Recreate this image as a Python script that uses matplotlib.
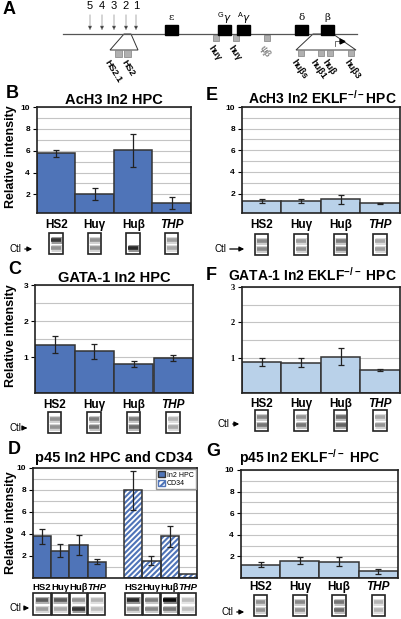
import numpy as np
import matplotlib
matplotlib.use('Agg')
from matplotlib import pyplot as plt
from matplotlib.patches import Rectangle, Polygon, Patch

plt.rcParams['font.family'] = ['Liberation Sans', 'DejaVu Sans']
plt.rcParams['hatch.linewidth'] = 1.5
plt.rcParams['mathtext.fontset'] = 'custom'
plt.rcParams['mathtext.rm'] = 'Liberation Sans'

W, H = 402, 619
DARK = '#4f74b8'
LIGHT = '#b9d1e9'
EDGE = '#333333'

cats = ['HS2', 'Huγ', 'Huβ', 'THP']

# AcH3 (B: In2 HPC, E: EKLF-/- HPC)
ach3_wt = [5.75, 2.05, 6.05, 1.25]
ach3_wt_lo = [5.45, 1.45, 4.5, 0.7]
ach3_wt_hi = [6.05, 2.6, 7.5, 1.8]
ach3_ko = [1.3, 1.28, 1.5, 1.1]
ach3_ko_lo = [1.1, 1.08, 1.05, 1.05]
ach3_ko_hi = [1.45, 1.45, 1.9, 1.12]

# GATA-1 (C, F)
gata_wt = [1.34, 1.17, 0.8, 0.97]
gata_wt_lo = [1.1, 0.95, 0.72, 0.88]
gata_wt_hi = [1.57, 1.37, 0.9, 1.05]
gata_ko = [0.88, 0.84, 1.03, 0.65]
gata_ko_lo = [0.77, 0.75, 0.78, 0.62]
gata_ko_hi = [0.98, 0.98, 1.28, 0.68]

# p45 (D: In2 HPC + CD34, G: EKLF-/-)
p45_hpc = [3.85, 2.45, 3.0, 1.45]
p45_hpc_lo = [3.1, 1.9, 2.1, 1.3]
p45_hpc_hi = [4.5, 3.05, 3.95, 1.7]
p45_cd34 = [8.0, 1.55, 3.85, 0.35]
p45_cd34_lo = [6.2, 1.15, 2.8, 0.35]
p45_cd34_hi = [9.7, 2.0, 4.7, 0.35]
p45_ko = [1.2, 1.6, 1.5, 0.65]
p45_ko_lo = [1.0, 1.3, 1.1, 0.4]
p45_ko_hi = [1.5, 1.9, 1.9, 0.85]

# gel band strengths (upper band, Ctl band) for each lane
gel_b = [(0.75, 0.3), (0.3, 0.3), (0.05, 0.8), (0.25, 0.2)]
gel_e = [(0.35, 0.35), (0.25, 0.3), (0.4, 0.45), (0.2, 0.25)]
gel_c = [(0.3, 0.3), (0.4, 0.45), (0.4, 0.5), (0.15, 0.2)]
gel_f = [(0.35, 0.45), (0.3, 0.45), (0.5, 0.55), (0.2, 0.3)]
gel_d = [(0.6, 0.25), (0.6, 0.2), (0.3, 0.75), (0.15, 0.1),
         (0.8, 0.3), (0.4, 0.35), (0.95, 0.45), (0.1, 0.1)]
gel_g = [(0.3, 0.3), (0.35, 0.3), (0.45, 0.5), (0.15, 0.15)]

# locus map (panel A)
hs_names = ['5', '4', '3', '2', '1']
hs_x = [90, 102, 114, 126, 136]
gene_names = ['ε', r'$^{\rm G}\gamma$', r'$^{\rm A}\gamma$', 'δ', 'β']
gene_x = [165, 218, 237, 295, 321]
probe_line_x = [213, 233, 264]
probe_line_names = ['huγ', 'huγ', 'ψβ']
hs2_probe_x = [115, 124]
hs2_label_x = [110, 127]
hs2_probe_names = ['HS2.1', 'HS2']
beta_probe_x = [298, 318, 327, 348]
beta_label_x = [297, 316, 328, 350]
beta_probe_names = ['huβs', 'huβ1', 'huβ', 'huβ3']

KO = r'EKLF$^{\mathregular{-/-}}$'


def px_box(x0, y0, x1, y1):
    return [x0 / W, 1 - y1 / H, (x1 - x0) / W, (y1 - y0) / H]


def bar_panel(fig, box, x, vals, lo, hi, nslot, ylim, major, minor, color=DARK, serif=False):
    ax = fig.add_axes(px_box(*box))
    vals = np.array(vals); lo = np.array(lo); hi = np.array(hi)
    ax.set_axisbelow(True)
    ax.set_yticks(major)
    ax.set_yticks(minor, minor=True)
    ax.yaxis.grid(True, which='both', color='#c4c4c4', lw=0.8)
    ax.bar(x, vals, width=1.0, color=color, edgecolor=EDGE, lw=1.1, zorder=2)
    ax.errorbar(x, vals, yerr=[vals - lo, hi - vals], fmt='none', ecolor='#222222',
                elinewidth=0.9, capsize=2.2, capthick=0.9, zorder=3)
    ax.set_xlim(-0.5, nslot - 0.5)
    ax.set_ylim(ylim)
    ax.set_xticks([])
    ax.tick_params(axis='y', which='major', length=3, width=0.8, labelsize=6, pad=2)
    ax.tick_params(axis='y', which='minor', length=0)
    for lab in ax.get_yticklabels():
        lab.set_fontweight('bold')
        if serif:
            lab.set_family('Liberation Serif')
    for s in ax.spines.values():
        s.set_linewidth(1.2)
        s.set_color('#222222')
    return ax


def draw_gel(ov, cx, top, w, h, bands):
    ov.add_patch(Rectangle((cx - w / 2, top), w, h, facecolor='white', lw=0, zorder=2))
    for frac, strength in zip([0.33, 0.72], bands):
        if strength < 0.08:
            continue
        y = top + h * frac
        ov.plot([cx - w * 0.4, cx + w * 0.4], [y, y], color=plt.cm.Greys(0.15 + strength * 0.45),
                lw=5, solid_capstyle='butt', zorder=3)
        ov.plot([cx - w * 0.36, cx + w * 0.36], [y, y], color=plt.cm.Greys(0.3 + strength * 0.7),
                lw=2.6, solid_capstyle='butt', zorder=4)
    ov.add_patch(Rectangle((cx - w / 2, top), w, h, fill=False,
                           edgecolor='#222222', lw=1.2, zorder=5))


def ctl_arrow(ov, x, tip, y):
    ov.text(x, y, 'Ctl', fontsize=7, va='center', ha='left', zorder=5)
    ov.annotate('', xy=(tip, y), xytext=(x + 12, y),
                arrowprops=dict(arrowstyle='-|>', lw=0.9, color='black', mutation_scale=7))


fig = plt.figure(figsize=(W / 100, H / 100), dpi=100)

ov = fig.add_axes([0, 0, 1, 1])
ov.set_xlim(0, W)
ov.set_ylim(H, 0)
ov.axis('off')

# ---- panel A: locus map
ov.text(3, 9, 'A', fontsize=13, fontweight='bold', va='center')
ov.plot([63, 357], [34, 34], color='#555555', lw=0.9)
for name, x in zip(hs_names, hs_x):
    ov.text(x, 6, name, fontsize=8, ha='center', va='center')
    ov.annotate('', xy=(x, 33), xytext=(x, 12),
                arrowprops=dict(arrowstyle='-|>', lw=0.5, color='#888888', fc='black',
                                mutation_scale=6))
for name, x in zip(gene_names, gene_x):
    ov.add_patch(Rectangle((x, 25), 13, 10, color='black', zorder=3))
    ov.text(x + 6.5, 18, name, fontsize=7.5, ha='center', va='center', family='DejaVu Serif')
for name, x in zip(probe_line_names, probe_line_x):
    ov.add_patch(Rectangle((x, 35), 6, 6, facecolor='#b0b0b0', edgecolor='#808080', lw=0.5))
    col = '#888888' if name == 'ψβ' else 'black'
    ov.text(x + 1, 44, name, fontsize=6.5, fontweight='bold', rotation=-55, color=col,
            ha='left', va='top', rotation_mode='anchor')
ov.add_patch(Polygon([(124, 34), (131, 34), (138, 50), (110, 50)], closed=True,
                     facecolor='white', edgecolor='#333333', lw=0.7))
for name, x, lx in zip(hs2_probe_names, hs2_probe_x, hs2_label_x):
    ov.add_patch(Rectangle((x, 50), 7, 7, facecolor='#b0b0b0', edgecolor='#808080', lw=0.5))
    ov.text(lx, 58, name, fontsize=6.5, fontweight='bold', rotation=-58,
            ha='left', va='top', rotation_mode='anchor')
ov.add_patch(Polygon([(313, 34), (333, 34), (356, 50), (296, 50)], closed=True,
                     facecolor='white', edgecolor='#333333', lw=0.7))
ov.plot([335, 335, 342], [46, 41, 41], color='#555555', lw=0.6)
ov.plot([342], [41], marker='>', color='black', ms=3.5)
for name, x, lx in zip(beta_probe_names, beta_probe_x, beta_label_x):
    ov.add_patch(Rectangle((x, 50), 6, 6, facecolor='#b0b0b0', edgecolor='#808080', lw=0.5))
    ov.text(lx, 58, name, fontsize=6.5, fontweight='bold', rotation=-55,
            ha='left', va='top', rotation_mode='anchor')

# ---- bar panels
x4 = np.arange(4)
panels = [
    ('B', 'AcH3 In2 HPC', (37, 107, 191, 213), ach3_wt, ach3_wt_lo, ach3_wt_hi, DARK,
     (0.3, 10), [2, 4, 6, 8, 10], np.arange(1, 11), gel_b, 114, 100, 225, 233, (10, 35, 249)),
    ('E', 'AcH3 In2 ' + KO + 'HPC', (242, 107, 400, 213), ach3_ko, ach3_ko_lo, ach3_ko_hi, LIGHT,
     (0.2, 10), [2, 4, 6, 8, 10], np.arange(1, 11), gel_e, 322, 98, 225, 234, (215, 247, 249)),
    ('C', 'GATA-1 In2 HPC', (35, 285, 193, 393), gata_wt, gata_wt_lo, gata_wt_hi, DARK,
     (0, 3), [1, 2, 3], np.arange(0.5, 3.01, 0.5), gel_c, 114, 278, 405, 412, (10, 30, 428)),
    ('F', 'GATA-1 In2 ' + KO + ' HPC', (242, 287, 400, 393), gata_ko, gata_ko_lo, gata_ko_hi, LIGHT,
     (0, 3), [1, 2, 3], np.arange(0.5, 3.01, 0.5), gel_f, 312, 275, 404, 410, (218, 242, 424)),
    ('G', 'p45 In2 ' + KO + ' HPC', (241, 470, 398, 578), p45_ko, p45_ko_lo, p45_ko_hi, LIGHT,
     (0, 10), [2, 4, 6, 8, 10], np.arange(1, 11), gel_g, 310, 458, 587, 595, (222, 247, 612)),
]
letter_pos = {'B': (6, 94), 'E': (206, 95), 'C': (8, 270), 'F': (206, 276), 'G': (206, 451), 'D': (8, 450)}

for (letter, title, box, vals, lo, hi, color, ylim, major, minor, gel, tx, ty, ly, gy, ctl) in panels:
    ax = bar_panel(fig, box, x4, vals, lo, hi, 4, ylim, major, minor, color=color,
                   serif=(letter == 'F'))
    x0, _, x1, _ = box
    ov.text(tx, ty, title, fontsize=10.5 if letter in 'BC' else 10, fontweight='bold',
            ha='center', va='center')
    ov.text(*letter_pos[letter], letter, fontsize=13, fontweight='bold', ha='left', va='center')
    slot = (x1 - x0) / 4
    for i, (c, bands) in enumerate(zip(cats, gel)):
        bx = x0 + (i + 0.5) * slot
        ov.text(bx, ly, c, fontsize=8.5, fontweight='bold', ha='center', va='center',
                style='italic' if c == 'THP' else 'normal')
        draw_gel(ov, bx, gy, 13.5, 21, bands)
    ctl_arrow(ov, *ctl)
    if letter in ('B', 'C'):
        _, y0, _, y1 = box
        ov.text(11, (y0 + y1) / 2 - 3, 'Relative intensity', fontsize=9, fontweight='bold',
                rotation=90, ha='center', va='center')

# ---- panel D: In2 HPC and CD34
dbox = (33, 468, 197, 578)
axd = bar_panel(fig, dbox, x4, p45_hpc, p45_hpc_lo, p45_hpc_hi, 9, (0, 10),
                [2, 4, 6, 8, 10], np.arange(1, 11))
x_cd = x4 + 5
cd = np.array(p45_cd34)
axd.bar(x_cd, cd, width=1.0, facecolor='white', edgecolor=DARK, hatch='//////', lw=0, zorder=2)
axd.bar(x_cd, cd, width=1.0, fill=False, edgecolor=EDGE, lw=1.1, zorder=2)
axd.errorbar(x_cd[:3], cd[:3], yerr=[cd[:3] - np.array(p45_cd34_lo[:3]),
                                      np.array(p45_cd34_hi[:3]) - cd[:3]],
             fmt='none', ecolor='#222222', elinewidth=0.9, capsize=2.2, capthick=0.9, zorder=3)
axd.legend(handles=[Patch(facecolor=DARK, edgecolor=EDGE, label='In2 HPC'),
                    Patch(facecolor='white', edgecolor=DARK, hatch='/////', label='CD34')],
           loc='upper right', fontsize=5, handlelength=1.0, handleheight=1.0,
           borderpad=0.25, labelspacing=0.15, handletextpad=0.3, borderaxespad=0.2,
           fancybox=False, edgecolor='#999999', framealpha=1)
ov.text(114, 458, 'p45 In2 HPC and CD34', fontsize=10.5, fontweight='bold',
        ha='center', va='center')
ov.text(*letter_pos['D'], 'D', fontsize=13, fontweight='bold', ha='left', va='center')
ov.text(11, 523, 'Relative intensity', fontsize=9, fontweight='bold', rotation=90,
        ha='center', va='center')
dslot = (dbox[2] - dbox[0]) / 9
for j, slot_i in enumerate(list(x4) + list(x_cd)):
    bx = dbox[0] + (slot_i + 0.5) * dslot
    c = cats[j % 4]
    ov.text(bx, 587, c, fontsize=6.8, fontweight='bold', ha='center', va='center',
            style='italic' if c == 'THP' else 'normal')
    draw_gel(ov, bx, 593, dslot - 1, 22, gel_d[j])
ctl_arrow(ov, 10, 32, 608)

fig.savefig('out.png', dpi=100)
